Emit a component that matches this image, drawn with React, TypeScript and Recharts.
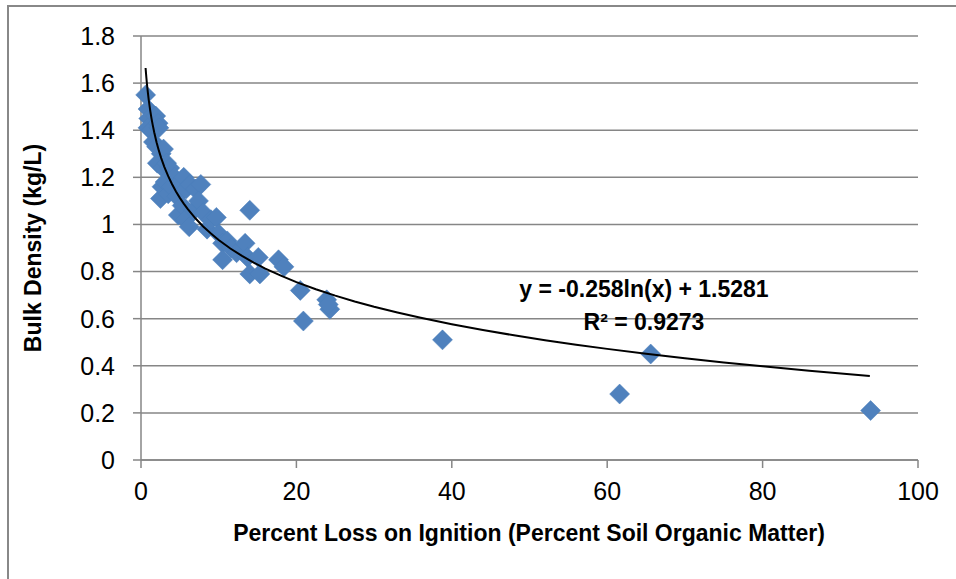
import React from "react";
import { ScatterChart, Scatter, XAxis, YAxis, CartesianGrid } from "recharts";

const lossOnIgnition = [
  0.6, 0.9, 1.0, 0.9, 1.3, 1.9, 2.2, 2.3, 1.6, 2.0, 2.6, 2.9, 2.1, 2.8, 3.3, 3.7,
  2.5, 2.7, 3.1, 3.5, 3.9, 4.3, 4.6, 5.0, 5.5, 5.8, 6.3, 7.0, 7.7, 4.8, 5.3, 5.7,
  6.2, 6.8, 7.4, 8.0, 8.5, 9.0, 9.7, 10.0, 10.5, 10.5, 11.1, 11.6, 12.3, 13.4, 13.7,
  14.0, 14.0, 15.1, 15.3, 17.7, 18.4, 20.5, 20.9, 23.9, 24.3, 24.1, 38.8, 61.6, 65.6, 93.9,
];
const bulkDensity = [
  1.55, 1.49, 1.45, 1.41, 1.40, 1.46, 1.43, 1.41, 1.35, 1.33, 1.30, 1.32, 1.26, 1.24, 1.26, 1.24,
  1.11, 1.16, 1.18, 1.13, 1.16, 1.20, 1.12, 1.18, 1.20, 1.15, 1.17, 1.15, 1.17, 1.04, 1.08, 1.02,
  0.99, 1.06, 1.10, 1.05, 0.98, 1.02, 1.03, 0.96, 0.92, 0.85, 0.93, 0.90, 0.88, 0.92, 0.86,
  0.79, 1.06, 0.86, 0.79, 0.85, 0.82, 0.72, 0.59, 0.68, 0.64, 0.66, 0.51, 0.28, 0.45, 0.21,
];

// Logarithmic trendline as printed on the chart: y = -0.258ln(x) + 1.5281
const trendSlope = -0.258;
const trendIntercept = 1.5281;
const trendX = [
  0.59, 0.65, 0.7, 0.75, 0.8, 0.9, 1, 1.1, 1.2, 1.35, 1.5, 1.7, 2, 2.3, 2.6, 3, 3.5, 4, 4.5, 5, 5.5, 6, 7, 8, 9,
  10, 11.5, 13, 14.5, 16, 18, 20, 22.5, 25, 27.5, 30, 33, 36, 40, 44, 48, 52, 56, 60, 65, 70, 75, 80, 86, 93.8,
];

const xTicks = [0, 20, 40, 60, 80, 100];
const yTicks = [0, 0.2, 0.4, 0.6, 0.8, 1, 1.2, 1.4, 1.6, 1.8];

const equationText = "y = -0.258ln(x) + 1.5281";
const rSquaredText = "R² = 0.9273";
const xTitle = "Percent Loss on Ignition (Percent Soil Organic Matter)";
const yTitle = "Bulk Density (kg/L)";

const points = lossOnIgnition.map((x, i) => ({ x, y: bulkDensity[i] }));
const trend = trendX.map((x) => ({ x, y: trendSlope * Math.log(x) + trendIntercept }));

const FONT = "'Liberation Sans Narrow', 'Liberation Sans', sans-serif";
const GRID = "#868686";

const Diamond = (props: any) => {
  const { cx, cy } = props;
  if (cx == null || cy == null) return <g />;
  const r = 10;
  return (
    <polygon
      points={`${cx},${cy - r} ${cx + r},${cy} ${cx},${cy + r} ${cx - r},${cy}`}
      fill="#4F81BD"
      stroke="#4A7EBB"
      strokeWidth={0.5}
    />
  );
};

const NoShape = () => <g />;

export default function App() {
  return (
    <div style={{ position: "absolute", left: 0, top: 0, width: 956, height: 579, background: "#fff", fontFamily: FONT }}>
      <div
        style={{
          position: "absolute",
          left: 7,
          top: 5,
          width: 949,
          height: 574,
          borderLeft: "2px solid #888",
          borderTop: "2px solid #888",
        }}
      />
      <ScatterChart
        width={956}
        height={579}
        margin={{ top: 36, right: 38, bottom: 0, left: 0 }}
        style={{ position: "absolute", left: 0, top: 0 }}
      >
        <CartesianGrid vertical={false} stroke={GRID} strokeWidth={1.5} horizontalValues={yTicks} />
        <XAxis
          type="number"
          dataKey="x"
          domain={[0, 100]}
          ticks={xTicks}
          height={119}
          tickSize={8}
          tickMargin={14}
          axisLine={{ stroke: GRID, strokeWidth: 1.5 }}
          tickLine={{ stroke: GRID, strokeWidth: 1.5 }}
          tick={{ fill: "#000", fontSize: 25, fontFamily: FONT }}
          interval={0}
        />
        <YAxis
          type="number"
          dataKey="y"
          domain={[0, 1.8]}
          ticks={yTicks}
          width={141}
          tickSize={8}
          tickMargin={18}
          axisLine={{ stroke: GRID, strokeWidth: 1.5 }}
          tickLine={{ stroke: GRID, strokeWidth: 1.5 }}
          tick={{ fill: "#000", fontSize: 25, fontFamily: FONT }}
          interval={0}
        />
        <Scatter data={points} shape={Diamond} isAnimationActive={false} />
        <Scatter
          data={trend}
          shape={NoShape}
          line={{ stroke: "#000", strokeWidth: 2 }}
          lineType="joint"
          isAnimationActive={false}
        />
      </ScatterChart>
      <svg width={956} height={579} style={{ position: "absolute", left: 0, top: 0, pointerEvents: "none" }}>
        <text x={529} y={541} textAnchor="middle" fontSize={23} fontWeight="bold" fontFamily={FONT} fill="#000">
          {xTitle}
        </text>
        <text
          x={0}
          y={0}
          transform="translate(41,248) rotate(-90)"
          textAnchor="middle"
          fontSize={23}
          fontWeight="bold"
          fontFamily={FONT}
          fill="#000"
        >
          {yTitle}
        </text>
        <text x={644} y={297} textAnchor="middle" fontSize={23} fontWeight="bold" fontFamily={FONT} fill="#000">
          {equationText}
        </text>
        <text x={644} y={330} textAnchor="middle" fontSize={23} fontWeight="bold" fontFamily={FONT} fill="#000">
          {rSquaredText}
        </text>
      </svg>
    </div>
  );
}
